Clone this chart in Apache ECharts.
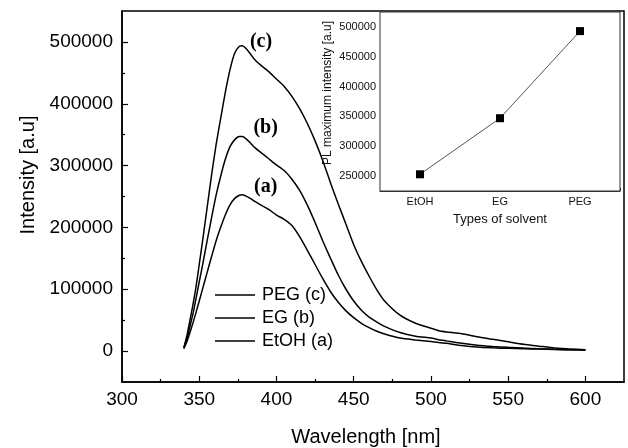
<!DOCTYPE html>
<html>
<head>
<meta charset="utf-8">
<script src="https://cdn.jsdelivr.net/npm/echarts@6/dist/echarts.min.js"></script>
<style>html,body{margin:0;padding:0;background:#fff;}#c{width:628px;height:448px;}</style>
</head>
<body>
<div id="c"></div>
<script>
// ---- data ----
var wavelengths = [340,342,344,346,348,350,352,355,358,361,364,367,370,373,376,378,380,383,386,390,395,400,405,410,415,420,425,430,435,440,445,450,455,460,465,470,480,490,500,505,510,520,530,540,550,560,570,580,590,600];
var pegC = [5000,25000,50000,76000,105000,140000,175000,230000,285000,335000,378000,420000,456000,482000,493000,494000,490000,481000,471000,462000,452000,440000,428000,412000,392000,368000,340000,308000,272000,238000,205000,172000,145000,121000,99000,81000,58000,45000,37000,33000,31000,28000,23000,19000,15000,11000,8000,5000,3500,2000];
var egB = [5000,20000,40000,61000,86000,112000,137000,177000,216000,253000,284000,311000,331000,342000,347000,347000,344000,337000,329000,321000,311000,301000,292000,278000,260000,236000,208000,178000,150000,123000,100000,81000,66000,55000,47000,40000,30000,24000,21000,18500,16500,12500,9500,7500,6000,4800,3800,3000,2300,1800];
var etohA = [4000,15000,30000,46000,63000,81000,99000,126000,153000,179000,201000,221000,237000,247000,252000,253000,251000,247000,242000,236000,229000,220000,213000,203000,185000,163000,140000,117000,96000,79000,65000,54000,45000,38000,32000,27500,21000,18000,15500,14000,12500,9000,6500,5200,4400,3800,3200,2600,2100,1700];
var seriesNames = ['PEG (c)', 'EG (b)', 'EtOH (a)'];
var curveTags = ['(c)', '(b)', '(a)'];
var tagCoords = [[390, 500000], [393, 361000], [393, 266000]];

var xTicks = [300,350,400,450,500,550,600];
var xMinorTicks = [325,375,425,475,525,575];
var yTicks = [0,100000,200000,300000,400000,500000];
var yMinorTicks = [50000,150000,250000,350000,450000];

var solvents = ['EtOH', 'EG', 'PEG'];
var plMax = [253000, 347000, 493000];
var insetYTicks = [250000,300000,350000,400000,450000,500000];
var insetYMinorTicks = [275000,325000,375000,425000,475000];

// ---- chart ----
function pairs(ys){ return wavelengths.map(function(w,i){ return [w, ys[i]]; }); }
function plain(v){ return String(v); }
var curves = [pegC, egB, etohA];
var FONT = 'Liberation Sans, Arial, Helvetica, sans-serif';

var series = curves.map(function(ys, k){
  return {
    name: seriesNames[k], type: 'line', xAxisIndex: 0, yAxisIndex: 0,
    data: pairs(ys), showSymbol: false, symbol: 'none', smooth: 0.2,
    lineStyle: {color: '#000', width: 1.5}, itemStyle: {color: '#000'},
    z: 3,
    markPoint: {
      symbol: 'rect', symbolSize: 1, silent: true,
      itemStyle: {color: 'rgba(0,0,0,0)'},
      label: {show: true, position: 'inside', formatter: curveTags[k], color: '#000',
              fontFamily: 'Liberation Serif, Times New Roman, serif', fontWeight: 'bold', fontSize: 20},
      data: [{coord: tagCoords[k]}]
    }
  };
});
series.push({
  name: 'inset', type: 'line', xAxisIndex: 2, yAxisIndex: 2,
  data: plMax, symbol: 'rect', symbolSize: 8, showSymbol: true,
  lineStyle: {color: '#555', width: 1}, itemStyle: {color: '#000'}, z: 10
});

var option = {
  backgroundColor: '#fff',
  animation: false,
  textStyle: {fontFamily: FONT},
  grid: [
    {left: 122, top: 11, right: 4, bottom: 66, show: true, borderColor: '#000', borderWidth: 1.5, backgroundColor: '#fff'},
    {left: 380, top: 12, right: 8, bottom: 257, show: true, borderColor: '#333', borderWidth: 1, backgroundColor: '#fff', z: 5}
  ],
  legend: {
    data: seriesNames, orient: 'vertical', left: 210, top: 281, itemGap: 5,
    icon: 'rect', itemWidth: 40, itemHeight: 1.5,
    textStyle: {fontSize: 18, color: '#000', fontFamily: FONT, padding: [0,0,0,2], lineHeight: 18},
    itemStyle: {color: '#000'}, selectedMode: false
  },
  xAxis: [
    {type: 'value', gridIndex: 0, min: 300, max: 625, position: 'bottom',
     axisLine: {show: true, onZero: false, lineStyle: {color: '#000', width: 1.5}},
     axisTick: {show: true, inside: true, length: 6, customValues: xTicks, lineStyle: {color: '#000', width: 1.2}},
     axisLabel: {customValues: xTicks, formatter: plain, fontSize: 19, color: '#000', margin: 8, fontFamily: FONT},
     splitLine: {show: false}},
    {type: 'value', gridIndex: 0, min: 300, max: 625, position: 'bottom',
     axisLine: {show: false, onZero: false},
     axisTick: {show: true, inside: true, length: 3, customValues: xMinorTicks, lineStyle: {color: '#000', width: 1.2}},
     axisLabel: {show: false}, splitLine: {show: false}},
    {type: 'category', gridIndex: 1, data: solvents, boundaryGap: true, position: 'bottom',
     axisLine: {show: true, onZero: false, lineStyle: {color: '#333', width: 1}},
     axisTick: {show: true, inside: true, alignWithLabel: true, length: 3, lineStyle: {color: '#333'}},
     axisLabel: {fontSize: 11, color: '#111', margin: 5, fontFamily: FONT},
     name: 'Types of solvent', nameLocation: 'middle', nameGap: 22,
     nameTextStyle: {fontSize: 13, color: '#111', fontFamily: FONT}},
    {type: 'category', gridIndex: 1, data: solvents, boundaryGap: true, position: 'bottom',
     axisLine: {show: false, onZero: false},
     axisTick: {show: true, inside: true, alignWithLabel: false, length: 3, lineStyle: {color: '#333'}},
     axisLabel: {show: false}}
  ],
  yAxis: [
    {type: 'value', gridIndex: 0, min: -50000, max: 550000, position: 'left',
     axisLine: {show: true, onZero: false, lineStyle: {color: '#000', width: 1.5}},
     axisTick: {show: true, inside: true, length: 6, customValues: yTicks, lineStyle: {color: '#000', width: 1.2}},
     axisLabel: {customValues: yTicks, formatter: plain, fontSize: 19, color: '#000', margin: 9, fontFamily: FONT},
     splitLine: {show: false}},
    {type: 'value', gridIndex: 0, min: -50000, max: 550000, position: 'left',
     axisLine: {show: false, onZero: false},
     axisTick: {show: true, inside: true, length: 3, customValues: yMinorTicks, lineStyle: {color: '#000', width: 1.2}},
     axisLabel: {show: false}, splitLine: {show: false}},
    {type: 'value', gridIndex: 1, min: 225000, max: 525000, position: 'left',
     axisLine: {show: true, onZero: false, lineStyle: {color: '#333', width: 1}},
     axisTick: {show: true, inside: true, length: 3, customValues: insetYTicks, lineStyle: {color: '#333'}},
     axisLabel: {customValues: insetYTicks, formatter: plain, fontSize: 11, color: '#111', margin: 4, fontFamily: FONT},
     splitLine: {show: false}},
    {type: 'value', gridIndex: 1, min: 225000, max: 525000, position: 'left',
     axisLine: {show: false, onZero: false},
     axisTick: {show: true, inside: true, length: 2, customValues: insetYMinorTicks, lineStyle: {color: '#333'}},
     axisLabel: {show: false}, splitLine: {show: false}}
  ],
  graphic: [
    {type: 'text', x: 28, y: 175, rotation: Math.PI / 2,
     style: {text: 'Intensity [a.u]', fontSize: 20, fontFamily: FONT, fill: '#000', align: 'center', verticalAlign: 'middle'}},
    {type: 'text', x: 366, y: 437,
     style: {text: 'Wavelength [nm]', fontSize: 20, fontFamily: FONT, fill: '#000', align: 'center', verticalAlign: 'middle'}},
    {type: 'text', x: 328, y: 93, rotation: Math.PI / 2, z: 20,
     style: {text: 'PL maximum intensity [a.u]', fontSize: 12, fontFamily: FONT, fill: '#111', align: 'center', verticalAlign: 'middle'}}
  ],
  series: series
};

var chart = echarts.init(document.getElementById('c'), null, {renderer: 'canvas'});
chart.setOption(option);
</script>
</body>
</html>
